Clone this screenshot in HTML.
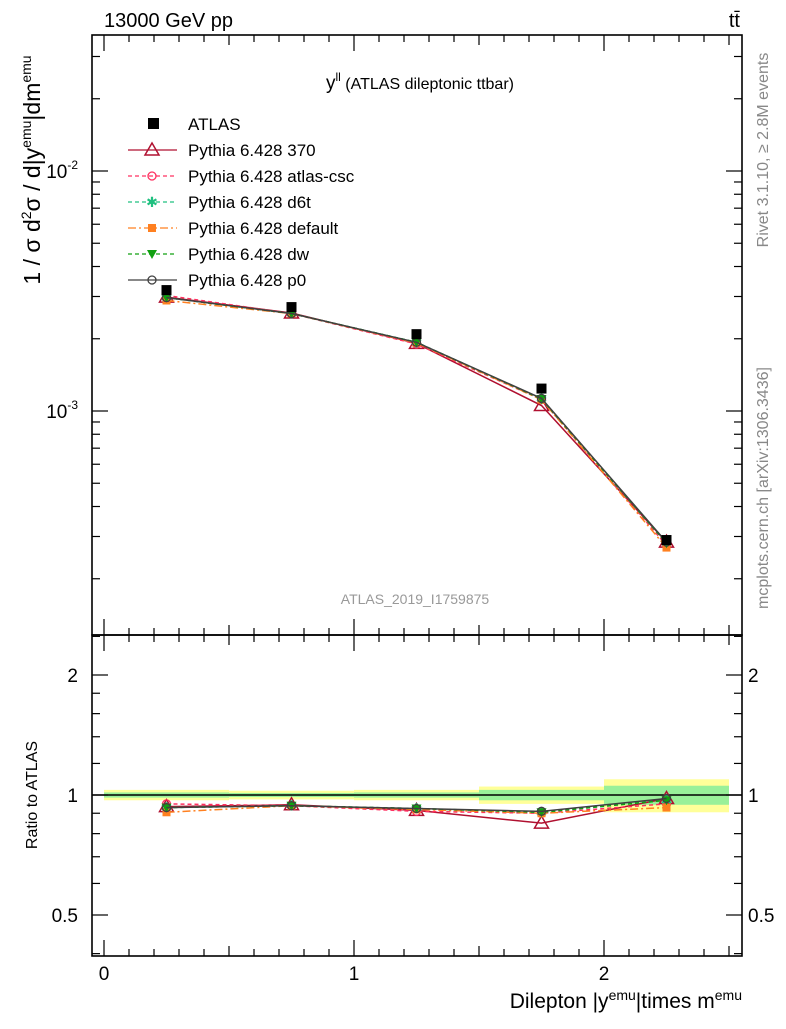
<!DOCTYPE html>
<html><head><meta charset="utf-8"><style>
html,body{margin:0;padding:0;background:#fff}
svg text{font-family:"Liberation Sans",sans-serif}
</style></head><body>
<svg id="c" width="786" height="1024" viewBox="0 0 786 1024" xmlns="http://www.w3.org/2000/svg">
<text x="104" y="27" font-size="20">13000 GeV pp</text>
<text x="740" y="27" font-size="20" text-anchor="end">tt̄</text>
<text x="420" y="89" font-size="19" text-anchor="middle">y<tspan font-size="12" dy="-8">ll</tspan><tspan dy="8" font-size="16"> (ATLAS dileptonic ttbar)</tspan></text>
<text x="415" y="604" font-size="14" fill="#999" text-anchor="middle">ATLAS_2019_I1759875</text>
<text transform="translate(40,170) rotate(-90)" font-size="23" text-anchor="middle">1 / σ d<tspan font-size="14" dy="-9">2</tspan><tspan dy="9">σ / d|y</tspan><tspan font-size="14" dy="-9">emu</tspan><tspan dy="9">|dm</tspan><tspan font-size="14" dy="-9">emu</tspan></text>
<text transform="translate(768,150) rotate(-90)" font-size="16" fill="#888" text-anchor="middle">Rivet 3.1.10, ≥ 2.8M events</text>
<text transform="translate(768,488) rotate(-90)" font-size="16" fill="#888" text-anchor="middle">mcplots.cern.ch [arXiv:1306.3436]</text>
<text transform="translate(37,795) rotate(-90)" font-size="16" text-anchor="middle">Ratio to ATLAS</text>
<text x="742" y="1008" font-size="21" text-anchor="end">Dilepton |y<tspan font-size="14" dy="-8">emu</tspan><tspan dy="8">|times m</tspan><tspan font-size="14" dy="-8">emu</tspan></text>
<g id="main"></g><g id="ratio"></g><g id="legend"></g>
</svg>
<script>
const binCenters=[0.25,0.75,1.25,1.75,2.25];
const binEdges=[0,0.5,1,1.5,2,2.5];
const atlasValues=[3.19e-3,2.71e-3,2.09e-3,1.24e-3,2.9e-4];
const statRelErr=[0.015,0.012,0.015,0.03,0.055];
const totRelErr=[0.03,0.025,0.03,0.05,0.095];
const seriesNames=["Pythia 6.428 370","Pythia 6.428 atlas-csc","Pythia 6.428 d6t","Pythia 6.428 default","Pythia 6.428 dw","Pythia 6.428 p0"];
const ratio370=[0.935,0.945,0.915,0.85,0.98];
const ratioCsc=[0.95,0.94,0.91,0.9,0.95];
const ratioD6t=[0.93,0.94,0.925,0.905,0.97];
const ratioDefault=[0.905,0.94,0.92,0.9,0.93];
const ratioDw=[0.93,0.94,0.925,0.905,0.97];
const ratioP0=[0.93,0.94,0.925,0.91,0.98];
const yTickLabels=["10","10"];
const ratioTicks=[0.5,1,2];
const xTicks=[0,1,2];

const NS="http://www.w3.org/2000/svg";
const L=92,R=742,MT=35,MB=635,RB=956;
const X=v=>104+v*250;
const Y=v=>171-(Math.log10(v)+2)*240;
const YR=v=>795-Math.log2(v)*120;
function mk(par,tag,at){const e=document.createElementNS(NS,tag);for(const k in at)e.setAttribute(k,at[k]);par.appendChild(e);return e;}
const main=document.getElementById('main'),rat=document.getElementById('ratio'),leg=document.getElementById('legend');
const styles=[
 {c:"#b01030",d:"",m:"tri"},{c:"#ff3060",d:"4,3",m:"circ"},{c:"#20c080",d:"4,3",m:"star"},
 {c:"#ff8020",d:"8,3,2,3",m:"sq"},{c:"#10a010",d:"4,3",m:"tridown"},{c:"#404040",d:"",m:"circ"}];
const ratios=[ratio370,ratioCsc,ratioD6t,ratioDefault,ratioDw,ratioP0];
function marker(g,type,x,y,c){
 let e;
 if(type==="tri")e=mk(g,'polygon',{points:`${x},${y-7} ${x-7},${y+5} ${x+7},${y+5}`,fill:"none",stroke:c,"stroke-width":1.5});
 else if(type==="circ")e=mk(g,'circle',{cx:x,cy:y,r:4,fill:"none",stroke:c,"stroke-width":1.3});
 else if(type==="star")e=mk(g,'text',{x:x,y:y+5,"font-size":14,"text-anchor":"middle",fill:c});
 else if(type==="sq")e=mk(g,'rect',{x:x-4,y:y-4,width:8,height:8,fill:c});
 else if(type==="tridown")e=mk(g,'polygon',{points:`${x-5},${y-4} ${x+5},${y-4} ${x},${y+5}`,fill:c});
 if(type==="star")e.textContent="✱";
 
 
}
binEdges.slice(0,-1).forEach((b,i)=>{
 const r1=mk(rat,'rect',{x:X(b),y:YR(1+totRelErr[i]),width:X(binEdges[i+1])-X(b),height:YR(1-totRelErr[i])-YR(1+totRelErr[i]),fill:"#ffff99"});
 
 
 const r2=mk(rat,'rect',{x:X(b),y:YR(1+statRelErr[i]),width:X(binEdges[i+1])-X(b),height:YR(1-statRelErr[i])-YR(1+statRelErr[i]),fill:"#99f099"});
 
 
});
const one=mk(rat,'line',{x1:L,x2:R,y1:YR(1),y2:YR(1),stroke:"#000","stroke-width":1.5});


ratios.forEach((rv,s)=>{
 const st=styles[s];
 const g=mk(main,'g',{});
 
 
 const pts=rv.map((r,i)=>X(binCenters[i])+","+Y(atlasValues[i]*r)).join(" ");
 mk(g,'polyline',{points:pts,fill:"none",stroke:st.c,"stroke-width":1.5,"stroke-dasharray":st.d});
 rv.forEach((r,i)=>marker(g,st.m,X(binCenters[i]),Y(atlasValues[i]*r),st.c));
 const g2=mk(rat,'g',{});
 
 
 mk(g2,'polyline',{points:rv.map((r,i)=>X(binCenters[i])+","+YR(r)).join(" "),fill:"none",stroke:st.c,"stroke-width":1.5,"stroke-dasharray":st.d});
 rv.forEach((r,i)=>marker(g2,st.m,X(binCenters[i]),YR(r),st.c));
});
atlasValues.forEach((v,i)=>{
 const r=mk(main,'rect',{x:X(binCenters[i])-5,y:Y(v)-5,width:10,height:10,fill:"#000"});
 
 
});
[[MT,MB],[MB,RB]].forEach(([t,b])=>{
 const f=mk(document.getElementById('c'),'rect',{x:L,y:t,width:R-L,height:b-t,fill:"none",stroke:"#000","stroke-width":1.6});
 
 
});
const ax=mk(document.getElementById('c'),'g',{stroke:"#000","stroke-width":1.2});


for(let k=0;k<=25;k++){const v=k/10;const x=X(v);const maj=k%10===0;const len=maj?16:(k%5===0?10:7);
 [[MT,1],[MB,-1],[MB,1],[RB,-1]].forEach(([y,d])=>mk(ax,'line',{x1:x,x2:x,y1:y,y2:y+d*len}));}
for(let d=-4;d<=-1;d++)for(let m=1;m<=9;m++){const v=m*Math.pow(10,d);const y=Y(v);if(y<MT||y>MB)continue;const len=m===1?16:8;
 mk(ax,'line',{x1:L,x2:L+len,y1:y,y2:y});mk(ax,'line',{x1:R,x2:R-len,y1:y,y2:y});}
[0.4,0.5,0.6,0.7,0.8,0.9,1,1.2,1.4,1.6,1.8,2,2.5].forEach(v=>{const y=YR(v);if(y<MB||y>RB)return;const len=ratioTicks.includes(v)?16:8;
 mk(ax,'line',{x1:L,x2:L+len,y1:y,y2:y});mk(ax,'line',{x1:R,x2:R-len,y1:y,y2:y});});
const svg=document.getElementById('c');
xTicks.forEach(v=>{const t=mk(svg,'text',{x:X(v),y:980,"font-size":19,"text-anchor":"middle"});t.textContent=v;
 
 });
[-2,-3].forEach((e,i)=>{const t=mk(svg,'text',{x:78,y:Y(Math.pow(10,e))+7,"font-size":19,"text-anchor":"end"});t.textContent=yTickLabels[i];
 const s=mk(t,'tspan',{"font-size":12,dy:-9});s.textContent=String(e);
 
 });
ratioTicks.forEach(v=>{[[78,"end"],[748,"start"]].forEach(([x,a])=>{const t=mk(svg,'text',{x:x,y:YR(v)+7,"font-size":19,"text-anchor":a});t.textContent=v;
 
 });});
const lr=mk(leg,'rect',{x:148,y:118,width:11,height:11,fill:"#000"});


const lt=mk(leg,'text',{x:188,y:130,"font-size":17});lt.textContent="ATLAS";


seriesNames.forEach((n,s)=>{const y=150+s*26;const st=styles[s];
 mk(leg,'line',{x1:128,x2:177,y1:y,y2:y,stroke:st.c,"stroke-width":1.3,"stroke-dasharray":st.d});
 marker(leg,st.m,152,y,st.c);
 const t=mk(leg,'text',{x:188,y:y+6,"font-size":17});t.textContent=n;
 
 });
</script>
</body></html>
